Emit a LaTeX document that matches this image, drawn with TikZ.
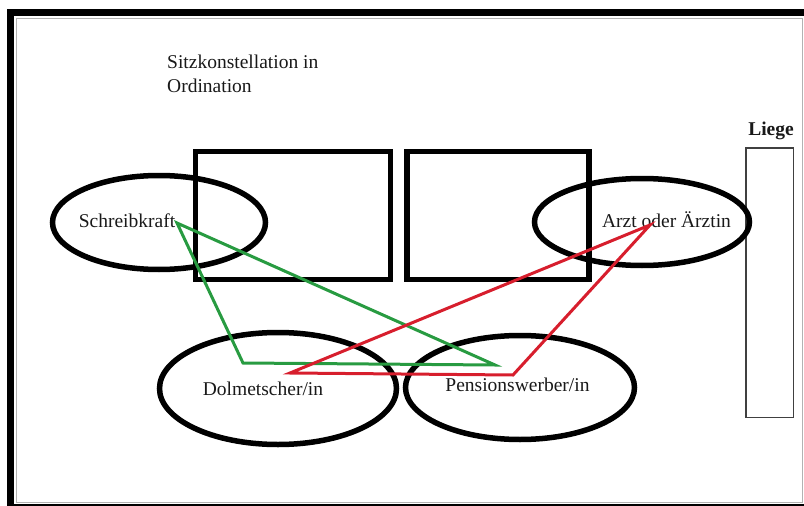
\documentclass[tikz,border=0pt]{standalone}
\usepackage{fontspec}
\setmainfont{Liberation Serif}
\usetikzlibrary{shapes.geometric}
\definecolor{lgreen}{RGB}{40,155,65}
\definecolor{lred}{RGB}{215,30,45}
\begin{document}
\begin{tikzpicture}[x=1pt,y=-1pt,
  seat/.style={draw=black, line width=5.5pt, ellipse, inner sep=0pt},
  tablebox/.style={draw=black, line width=5.5pt, inner sep=0pt},
  lbl/.style={font=\fontsize{19.5}{24}\selectfont, text=black!90, inner sep=0pt},
  gline/.style={draw=lgreen, line width=3pt, line join=miter},
  rline/.style={draw=lred, line width=3pt, line join=miter}]
\useasboundingbox (0,0) rectangle (804,506);
\begin{scope}
\clip (0,0) rectangle (804,506);
\draw[line width=7pt] (10.5,12.5) rectangle (808,507);
\draw[gray!60, line width=1pt] (16.5,18.5) rectangle (802,502);
\end{scope}
% tables
\node[tablebox, minimum width=195pt, minimum height=128pt] (tableL) at (293,215.5) {};
\node[tablebox, minimum width=182pt, minimum height=128pt] (tableR) at (498,215.5) {};
% bed
\node[draw=black!75, line width=1.5pt, inner sep=0pt, minimum width=47.5pt, minimum height=269.5pt] (liege) at (769.5,282.5) {};
\node[lbl, font=\fontsize{19.5}{24}\selectfont\bfseries, anchor=base] (liegelbl) at (771,135) {Liege};
% seats
\node[seat, minimum width=213pt, minimum height=94pt] (schreib) at (159,222.5) {};
\node[seat, minimum width=215pt, minimum height=87pt] (arzt) at (642,222) {};
\node[seat, minimum width=237pt, minimum height=112pt] (dolm) at (278,388.5) {};
\node[seat, minimum width=229pt, minimum height=104pt] (pens) at (520,387.5) {};
% labels
\node[lbl, anchor=base west] (title1) at (167,68) {Sitzkonstellation in};
\node[lbl, anchor=base west] (title2) at (167,92) {Ordination};
\node[lbl, anchor=base] (schreiblbl) at (127,227) {Schreibkraft};
\node[lbl, anchor=base] (arztlbl) at (666.5,227) {Arzt oder Ärztin};
\node[lbl, anchor=base] (dolmlbl) at (263,395) {Dolmetscher/in};
\node[lbl, anchor=base] (penslbl) at (517.5,391) {Pensionswerber/in};
% triangle corners
\coordinate (gS) at (177,223);
\coordinate (gD) at (243,363);
\coordinate (gP) at (495,365);
\coordinate (rA) at (650,225);
\coordinate (rD) at (290,373);
\coordinate (rP) at (513,375);
\draw[gline] (gS) -- (gD) -- (gP) -- cycle;
\draw[rline] (rA) -- (rD) -- (rP) -- cycle;
\end{tikzpicture}
\end{document}
